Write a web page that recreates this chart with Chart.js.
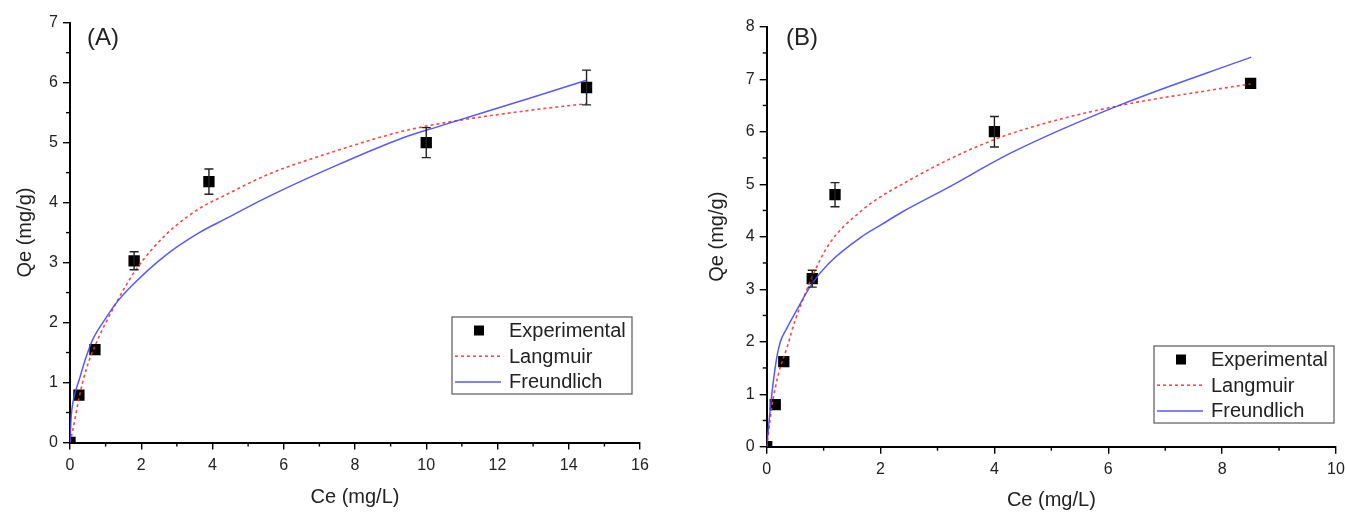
<!DOCTYPE html>
<html>
<head>
<meta charset="utf-8">
<script src="https://cdn.jsdelivr.net/npm/chart.js@4"></script>
<style>
  body { margin: 0; background: #fff; width: 1346px; height: 512px; overflow: hidden; position: relative; }
  .panel { position: absolute; top: 0; height: 512px; }
  #panelA { left: 0; width: 680px; }
  #panelB { left: 680px; width: 686px; }
</style>
</head>
<body>
<div class="panel" id="panelA"><canvas id="chartA"></canvas></div>
<div class="panel" id="panelB"><canvas id="chartB"></canvas></div>
<script>
// ---- panel A: experimental points ----
const ceA = [0, 0.25, 0.7, 1.8, 3.9, 10, 14.5];
const qeA = [0, 0.79, 1.55, 3.03, 4.35, 5.0, 5.92];
const errA = [0, 0, 0, 0.15, 0.21, 0.25, 0.29];

// panel A: Langmuir fit
const langCeA = [0, 0.08, 0.26, 0.45, 0.73, 1.29, 1.85, 2.7, 3.63, 4.38, 5.52, 7.4, 9.27, 10.4, 12.92, 14.5];
const langQeA = [0, 0.21, 0.76, 1.21, 1.65, 2.32, 2.88, 3.47, 3.9, 4.13, 4.46, 4.85, 5.18, 5.32, 5.54, 5.65];

// panel A: Freundlich fit
const frCeA = [0, 0.03, 0.1, 0.26, 0.45, 0.64, 1.0, 1.29, 1.76, 2.7, 3.63, 4.4, 5.5, 7.4, 9.3, 10.4, 12.9, 14.5];
const frQeA = [0, 0.4, 0.72, 1.05, 1.42, 1.72, 2.07, 2.32, 2.63, 3.13, 3.5, 3.74, 4.08, 4.6, 5.07, 5.28, 5.74, 6.04];

// ---- panel B: experimental points ----
const ceB = [0, 0.15, 0.3, 0.8, 1.2, 4.0, 8.5];
const qeB = [0, 0.8, 1.62, 3.2, 4.8, 6.0, 6.92];
const errB = [0, 0, 0, 0.16, 0.23, 0.29, 0];

// panel B: Langmuir fit
const langCeB = [0, 0.09, 0.21, 0.36, 0.5, 0.68, 0.8, 1.09, 1.67, 2.0, 2.38, 3.16, 4.0, 4.92, 6.21, 7.79, 8.5];
const langQeB = [0, 0.76, 1.4, 1.9, 2.41, 2.92, 3.24, 3.85, 4.5, 4.76, 5.0, 5.45, 5.85, 6.17, 6.5, 6.79, 6.91];

// panel B: Freundlich fit
const frCeB = [0, 0.03, 0.09, 0.18, 0.24, 0.35, 0.5, 0.8, 1.09, 1.67, 2.0, 2.38, 3.16, 4.3, 6.21, 8.51];
const frQeB = [0, 0.35, 1.0, 1.72, 2.0, 2.25, 2.55, 3.11, 3.49, 4.0, 4.22, 4.47, 4.92, 5.6, 6.51, 7.42];

const seriesLabels = ['Experimental', 'Langmuir', 'Freundlich'];
const axisTitleX = 'Ce (mg/L)';
const axisTitleY = 'Qe (mg/g)';

const FONT = '"Liberation Sans", Arial, sans-serif';
const TEXT = '#222';
Chart.defaults.font.family = FONT;

function pairs(xs, ys) {
    return xs.map((x, i) => ({ x: x, y: ys[i] }));
}

// error bars for the experimental dataset
const errorBarPlugin = {
    id: 'errorBars',
    afterDatasetsDraw(chart) {
        const ctx = chart.ctx;
        const xs = chart.scales.x, ys = chart.scales.y;
        chart.data.datasets.forEach(ds => {
            if (!ds.errors) return;
            ctx.save();
            ctx.strokeStyle = '#222';
            ctx.lineWidth = 1.4;
            ds.data.forEach((p, i) => {
                const e = ds.errors[i];
                if (!e) return;
                const px = xs.getPixelForValue(p.x);
                const top = ys.getPixelForValue(p.y + e);
                const bot = ys.getPixelForValue(p.y - e);
                ctx.beginPath();
                ctx.moveTo(px, top); ctx.lineTo(px, bot);
                ctx.moveTo(px - 4.5, top); ctx.lineTo(px + 4.5, top);
                ctx.moveTo(px - 4.5, bot); ctx.lineTo(px + 4.5, bot);
                ctx.stroke();
            });
            ctx.restore();
        });
    }
};

// short minor ticks between the major ones
const minorTickPlugin = {
    id: 'minorTicks',
    afterDraw(chart, args, opts) {
        const ctx = chart.ctx, area = chart.chartArea;
        ctx.save();
        ctx.strokeStyle = '#000';
        ctx.lineWidth = 1.4;
        ['x', 'y'].forEach(key => {
            const sc = chart.scales[key];
            const step = opts[key];
            for (let v = sc.min + step; v < sc.max; v += step) {
                if (Math.abs(v / (2 * step) - Math.round(v / (2 * step))) < 1e-6) continue;
                const p = sc.getPixelForValue(v);
                ctx.beginPath();
                if (key === 'x') { ctx.moveTo(p, area.bottom); ctx.lineTo(p, area.bottom + 4); }
                else { ctx.moveTo(area.left - 4, p); ctx.lineTo(area.left, p); }
                ctx.stroke();
            }
        });
        ctx.restore();
    }
};

// boxed legend inside the plot, plus the panel letter
const boxLegendPlugin = {
    id: 'boxLegend',
    afterDraw(chart, args, opts) {
        const ctx = chart.ctx;
        ctx.save();
        ctx.strokeStyle = '#666';
        ctx.lineWidth = 1.3;
        ctx.strokeRect(opts.x, opts.y, opts.w, opts.h);
        ctx.font = '20px ' + FONT;
        ctx.fillStyle = TEXT;
        ctx.textBaseline = 'middle';
        chart.data.datasets.forEach((ds, i) => {
            const cy = opts.y + 13.5 + i * 25.7;
            if (ds.showLine) {
                ctx.save();
                ctx.strokeStyle = ds.borderColor;
                ctx.lineWidth = ds.borderWidth;
                ctx.setLineDash(ds.borderDash || []);
                ctx.beginPath();
                ctx.moveTo(opts.x + 3, cy); ctx.lineTo(opts.x + 49, cy);
                ctx.stroke();
                ctx.restore();
            } else {
                ctx.fillStyle = '#000';
                ctx.fillRect(opts.x + 22, cy - 5, 10, 10);
                ctx.fillStyle = TEXT;
            }
            ctx.fillText(ds.label, opts.x + 57, cy + 1);
        });
        ctx.font = '24px ' + FONT;
        ctx.fillText(opts.panel, opts.panelX, opts.panelY);
        ctx.restore();
    }
};

function makeChart(id, cfg) {
    const ctx = document.getElementById(id).getContext('2d');
    return new Chart(ctx, {
        type: 'scatter',
        data: {
            datasets: [{
                label: seriesLabels[0],
                data: pairs(cfg.ce, cfg.qe),
                errors: cfg.err,
                pointStyle: 'rect',
                pointRadius: 8,
                backgroundColor: '#000',
                borderColor: '#000',
                borderWidth: 0,
                showLine: false,
                order: 2
            }, {
                label: seriesLabels[1],
                data: pairs(cfg.langCe, cfg.langQe),
                showLine: true,
                borderColor: 'rgba(255, 50, 50, 0.9)',
                borderWidth: 1.6,
                borderDash: [3, 3],
                pointRadius: 0,
                cubicInterpolationMode: 'monotone',
                order: 1
            }, {
                label: seriesLabels[2],
                data: pairs(cfg.frCe, cfg.frQe),
                showLine: true,
                borderColor: 'rgba(70, 70, 255, 0.9)',
                borderWidth: 1.5,
                pointRadius: 0,
                cubicInterpolationMode: 'monotone',
                order: 0
            }]
        },
        options: {
            responsive: true,
            maintainAspectRatio: false,
            animation: false,
            events: [],
            layout: { padding: { top: cfg.padTop, right: cfg.padRight, left: 0, bottom: 0 } },
            plugins: {
                legend: { display: false },
                tooltip: { enabled: false },
                minorTicks: { x: cfg.xStep / 2, y: 0.5 },
                boxLegend: cfg.legend
            },
            scales: {
                x: {
                    type: 'linear',
                    min: 0,
                    max: cfg.xMax,
                    afterFit: s => { s.height = cfg.xHeight; },
                    ticks: { stepSize: cfg.xStep, color: TEXT, font: { size: 16 }, padding: 6, maxRotation: 0 },
                    grid: { drawOnChartArea: false, tickLength: 7, color: '#000', lineWidth: 1.4 },
                    border: { color: '#000', width: 2 },
                    title: { display: true, text: axisTitleX, color: TEXT, font: { size: 20 }, padding: { top: 0, bottom: cfg.xTitlePad } }
                },
                y: {
                    min: 0,
                    max: cfg.yMax,
                    afterFit: s => { s.width = cfg.yWidth; },
                    ticks: { stepSize: 1, color: TEXT, font: { size: 16 }, padding: 5 },
                    grid: { drawOnChartArea: false, tickLength: 7, color: '#000', lineWidth: 1.4 },
                    border: { color: '#000', width: 2 },
                    title: { display: true, text: axisTitleY, color: TEXT, font: { size: 20 }, padding: { top: cfg.yTitlePad, bottom: 0 } }
                }
            }
        },
        plugins: [errorBarPlugin, minorTickPlugin, boxLegendPlugin]
    });
}

makeChart('chartA', {
    ce: ceA, qe: qeA, err: errA,
    langCe: langCeA, langQe: langQeA,
    frCe: frCeA, frQe: frQeA,
    xMax: 16, xStep: 2, yMax: 7,
    padTop: 22.7, padRight: 40,
    xHeight: 69.5, yWidth: 70,
    xTitlePad: 3, yTitlePad: 13,
    legend: { x: 452, y: 317, w: 180, h: 77, panel: '(A)', panelX: 87, panelY: 38 }
});

makeChart('chartB', {
    ce: ceB, qe: qeB, err: errB,
    langCe: langCeB, langQe: langQeB,
    frCe: frCeB, frQe: frQeB,
    xMax: 10, xStep: 2, yMax: 8,
    padTop: 26.7, padRight: 30,
    xHeight: 65.3, yWidth: 86.7,
    xTitlePad: 0, yTitlePad: 25,
    legend: { x: 474, y: 346, w: 180, h: 77, panel: '(B)', panelX: 106, panelY: 38 }
});
</script>
</body>
</html>
